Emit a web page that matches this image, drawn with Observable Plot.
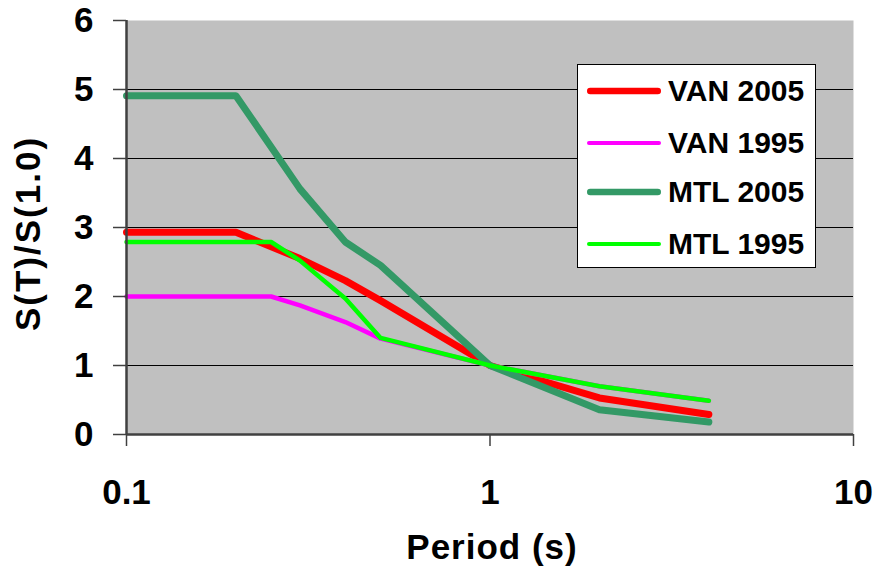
<!DOCTYPE html>
<html>
<head>
<meta charset="utf-8">
<script src="https://cdn.jsdelivr.net/npm/d3@7"></script>
<script src="https://cdn.jsdelivr.net/npm/@observablehq/plot@0.6"></script>
<style>
  html, body { margin: 0; padding: 0; background: #fff; }
  #wrap { position: relative; width: 876px; height: 569px; font-family: "Liberation Sans", Arial, sans-serif; }
  #legend { position: absolute; left: 577px; top: 64px; width: 237px; height: 202px; background: #fff; border: 1.5px solid #000; }
  .item { position: absolute; left: 0; display: flex; align-items: center; height: 40px; }
  .item svg { margin-left: 8px; }
  .item span { margin-left: 6px; font-weight: bold; font-size: 30px; color: #000; white-space: nowrap; }
</style>
</head>
<body>
<div id="wrap"></div>
<script>
// ---- data ----
const seriesNames = ["VAN 2005", "VAN 1995", "MTL 2005", "MTL 1995"];
const seriesColors = ["#ff0000", "#ff00ff", "#339966", "#00ff00"];
const seriesWidths = [7, 4.5, 7, 4.5];

const van2005T = [0.1, 0.2, 0.3, 0.4, 0.5, 1, 2, 4];
const van2005V = [2.93, 2.93, 2.55, 2.23, 1.94, 1.0, 0.53, 0.29];

const van1995T = [0.1, 0.25, 0.3, 0.4, 0.5, 1, 2, 4];
const van1995V = [2.0, 2.0, 1.87, 1.63, 1.39, 1.0, 0.70, 0.49];

const mtl2005T = [0.1, 0.2, 0.3, 0.4, 0.5, 1, 2, 4];
const mtl2005V = [4.91, 4.91, 3.56, 2.79, 2.45, 1.0, 0.36, 0.18];

const mtl1995T = [0.1, 0.25, 0.3, 0.4, 0.5, 1, 2, 4];
const mtl1995V = [2.79, 2.79, 2.52, 1.97, 1.40, 1.0, 0.70, 0.49];

const xTicks = [0.1, 1, 10];
const xTickLabels = ["0.1", "1", "10"];
const yTicks = [0, 1, 2, 3, 4, 5, 6];
const yTickLabels = ["0", "1", "2", "3", "4", "5", "6"];
const gridTicks = [1, 2, 3, 4, 5];
const xLabel = "Period (s)";
const yLabel = "S(T)/S(1.0)";

// ---- build ----
const seriesT = [van2005T, van1995T, mtl2005T, mtl1995T];
const seriesV = [van2005V, van1995V, mtl2005V, mtl1995V];
const rows = seriesNames.map((name, i) => seriesT[i].map((t, j) => ({name, T: t, v: seriesV[i][j]})));

const font = "'Liberation Sans', Arial, sans-serif";
const chart = Plot.plot({
  className: "chart",
  width: 876,
  height: 569,
  marginLeft: 126,
  marginRight: 23,
  marginTop: 20,
  marginBottom: 135,
  style: {fontFamily: font, fontWeight: "bold", background: "#fff", color: "#000", overflow: "visible"},
  x: {type: "log", domain: [0.1, 10]},
  y: {domain: [0, 6]},
  marks: [
    Plot.frame({fill: "#c0c0c0", stroke: "none"}),
    Plot.gridY(gridTicks, {stroke: "#000", strokeOpacity: 1, strokeWidth: 1}),
    ...rows.map((r, i) => Plot.line(r, {
      x: "T", y: "v",
      stroke: seriesColors[i], strokeWidth: seriesWidths[i],
      strokeLinecap: "round", strokeLinejoin: "round"
    })),
    Plot.ruleX([0.1], {stroke: "#404040", strokeWidth: 2.5}),
    Plot.ruleY([0], {stroke: "#404040", strokeWidth: 2.5}),
    Plot.axisX(xTicks, {
      tickFormat: d => xTickLabels[xTicks.indexOf(d)],
      tickSize: 12, tickPadding: 33, fontSize: 35, label: null,
      stroke: "#404040", strokeWidth: 1.5, fill: "#000"
    }),
    Plot.axisY(yTicks, {
      tickFormat: d => yTickLabels[yTicks.indexOf(d)],
      tickSize: 13, tickPadding: 20, fontSize: 35, label: null,
      stroke: "#404040", strokeWidth: 1.5, fill: "#000"
    }),
    Plot.text([xLabel], {
      text: d => d, frameAnchor: "bottom", lineAnchor: "bottom", textAnchor: "middle",
      dx: 2, dy: 124, fontSize: 35, fontWeight: "bold", fill: "#000"
    }),
    Plot.text([yLabel], {
      text: d => d, frameAnchor: "left", textAnchor: "middle", rotate: -90,
      dx: -98, dy: 6, fontSize: 35, fontWeight: "bold", fill: "#000"
    })
  ]
});

const wrap = document.getElementById("wrap");
wrap.appendChild(chart);
const labelGroups = chart.querySelectorAll('g[aria-label="text"] text');
if (labelGroups[0]) labelGroups[0].style.letterSpacing = "1px";
if (labelGroups[1]) labelGroups[1].style.letterSpacing = "2px";

// legend
const legend = document.createElement("div");
legend.id = "legend";
const legendCenters = [26, 78, 127, 179];
seriesNames.forEach((name, i) => {
  const item = document.createElement("div");
  item.className = "item";
  item.style.top = (legendCenters[i] - 20) + "px";
  const w = seriesWidths[i] - 0.5;
  item.innerHTML = `<svg width="76" height="12"><line x1="${w/2+1}" y1="6" x2="${75 - w/2}" y2="6" stroke="${seriesColors[i]}" stroke-width="${w}" stroke-linecap="round"/></svg><span>${name}</span>`;
  legend.appendChild(item);
});
wrap.appendChild(legend);
</script>
</body>
</html>
